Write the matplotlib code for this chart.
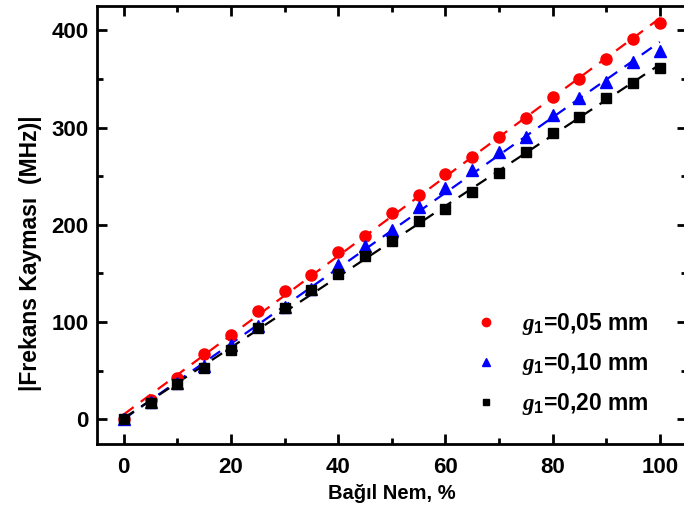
import matplotlib.pyplot as plt
import numpy as np
from matplotlib.ticker import MultipleLocator

plt.rcParams["font.family"] = ["Liberation Sans", "DejaVu Sans"]
plt.rcParams["font.weight"] = "bold"
plt.rcParams["mathtext.fontset"] = "custom"
plt.rcParams["mathtext.rm"] = "Liberation Sans:bold"
plt.rcParams["mathtext.it"] = "Liberation Serif:italic"

# relative humidity (%)
humidity = [0, 5, 10, 15, 20, 25, 30, 35, 40, 45, 50, 55, 60, 65, 70, 75, 80, 85, 90, 95, 100]

# |frequency shift| (MHz) for each gap
shift_005 = [0, 20, 42, 67, 87, 111, 132, 148, 172, 188, 212, 231, 252, 270, 290, 310, 331, 350, 370, 391, 408]
shift_010 = [0, 18, 37, 55, 76, 96, 115, 134, 159, 178, 195, 218, 238, 256, 275, 290, 313, 330, 347, 367, 379]
shift_020 = [0, 17, 36, 53, 71, 94, 114, 133, 149, 168, 183, 204, 216, 234, 253, 275, 294, 311, 330, 346, 361]

labels = ["0,05 mm", "0,10 mm", "0,20 mm"]
colors = ["#ff0000", "#0000ff", "#000000"]
markers = ["o", "^", "s"]
sizes = [8, 8, 6.5]

fig = plt.figure(figsize=(6.84, 5.13), dpi=100)
ax = fig.add_axes([0.1418, 0.1345, 0.862, 0.8538])

x = np.array(humidity)
for ys, lab, c, m, ms in zip([shift_005, shift_010, shift_020], labels, colors, markers, sizes):
    ys = np.array(ys)
    k, b = np.polyfit(x, ys, 1)
    ax.plot(x, k * x + b, color=c, lw=1.6, dashes=(5.5, 4), zorder=2)
    ax.plot(x, ys, ls="none", marker=m, ms=ms, color=c, zorder=3,
            label=r"$g_1$" + "=" + lab)

ax.set_xlim(-5, 105)
ax.set_ylim(-25.5, 425)
ax.xaxis.set_major_locator(MultipleLocator(20))
ax.xaxis.set_minor_locator(MultipleLocator(10))
ax.yaxis.set_major_locator(MultipleLocator(100))
ax.yaxis.set_minor_locator(MultipleLocator(50))
ax.tick_params(which="both", direction="in", top=True, right=True, width=2, labelsize=16)
ax.tick_params(axis="x", pad=9)
ax.tick_params(axis="y", pad=6)
ax.tick_params(which="major", length=7)
ax.tick_params(which="minor", length=4)
for s in ax.spines.values():
    s.set_linewidth(2)

ax.set_xlabel("Bağıl Nem, %", fontsize=14.5, fontweight="bold", labelpad=5)
ax.set_ylabel("|Frekans Kayması  (MHz)|", fontsize=16.5, fontweight="bold")
ax.yaxis.set_label_coords(-0.093, 0.436)

leg = ax.legend(loc="lower right", bbox_to_anchor=(0.97, 0.015), frameon=False,
                fontsize=16.5, handletextpad=0.8, labelspacing=0.6, markerscale=0.75,
                handlelength=1.5)

fig.savefig("out.png", dpi=100)
